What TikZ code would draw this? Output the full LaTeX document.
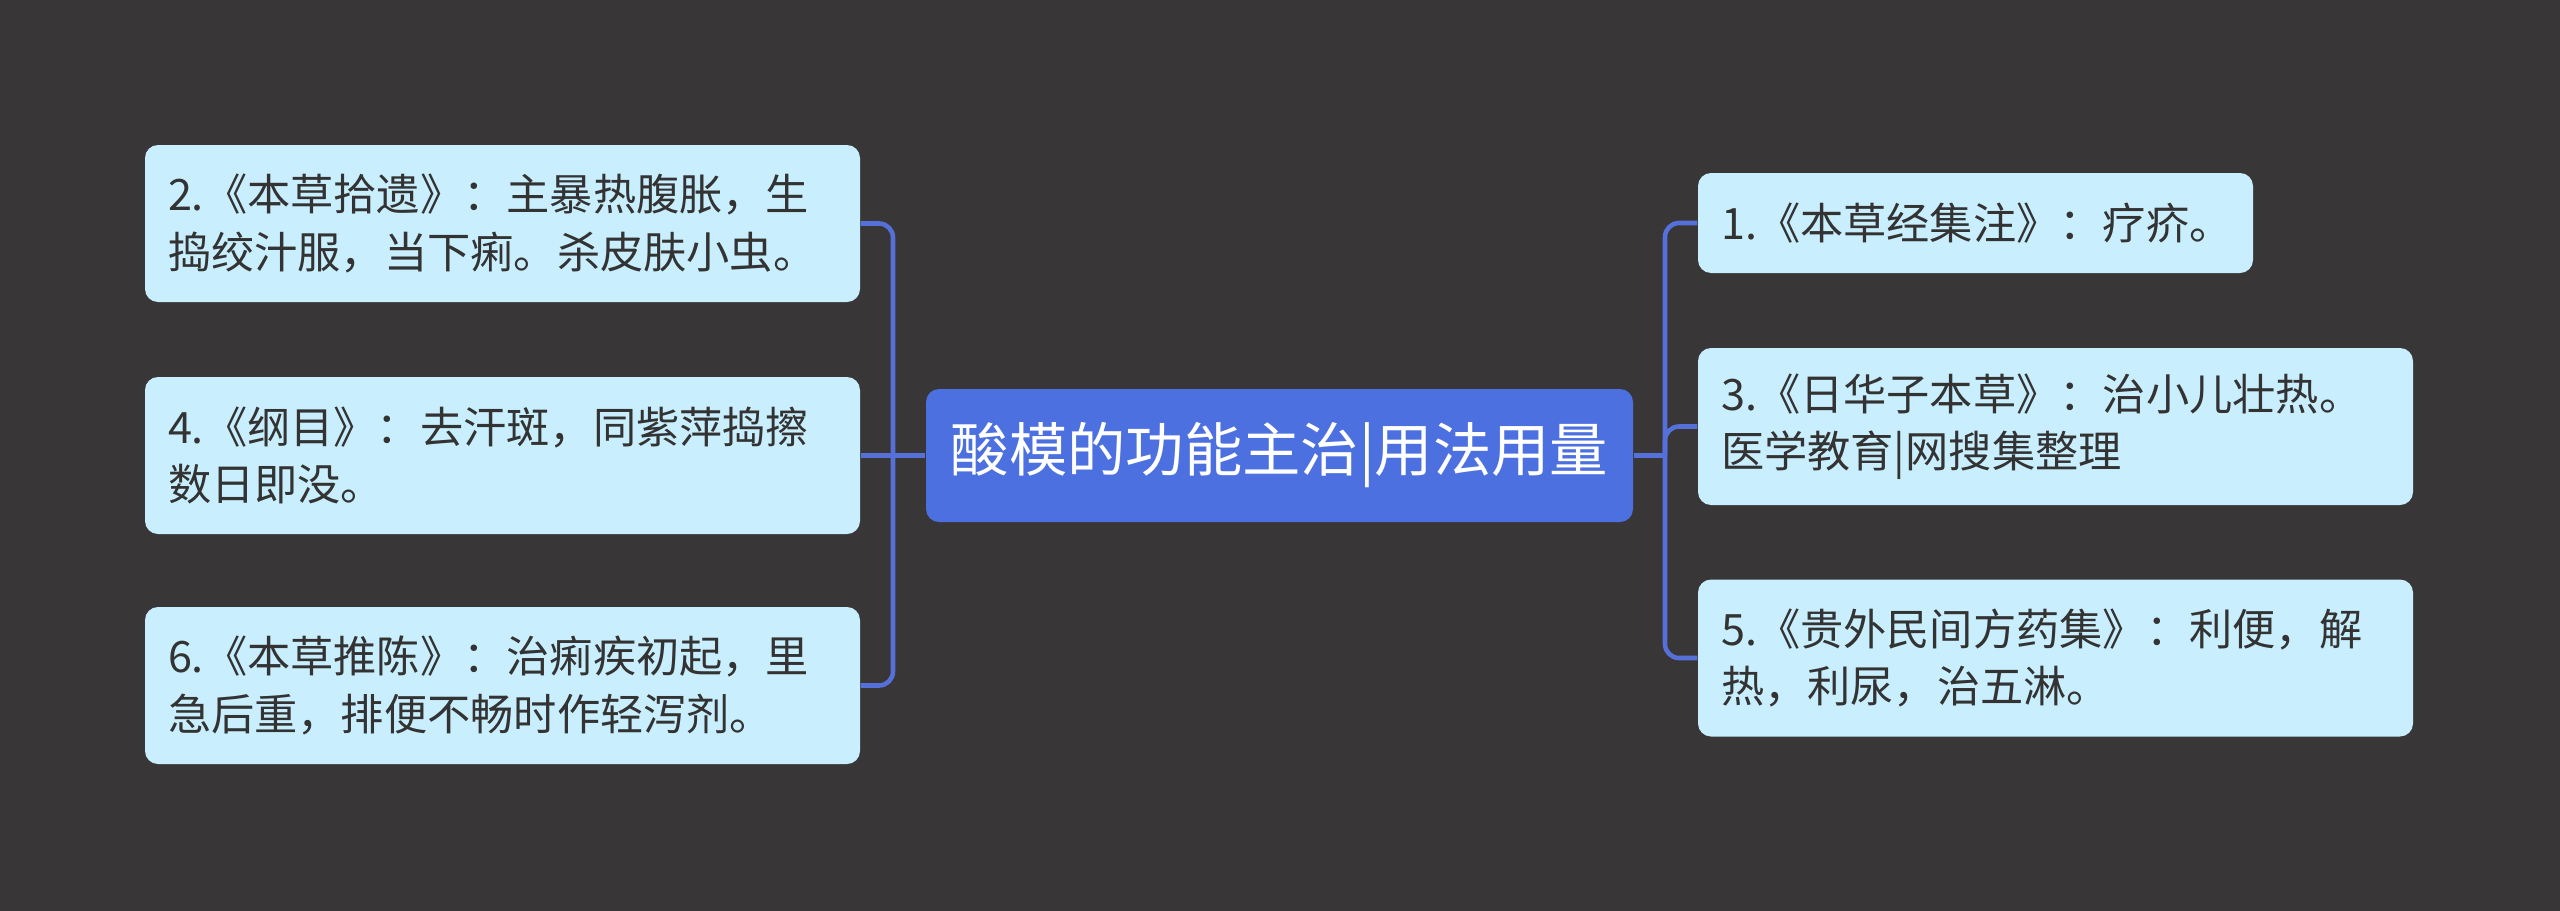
\documentclass[tikz,border=0pt]{standalone}
\usepackage{fontspec}
\newfontfamily\cjk{Noto Sans CJK SC}
\definecolor{bgcol}{HTML}{383637}
\definecolor{rootcol}{HTML}{4D70E0}
\definecolor{leafcol}{HTML}{C9EEFD}
\definecolor{linecol}{HTML}{5571D9}
\definecolor{txtcol}{HTML}{333333}
\begin{document}
\begin{tikzpicture}[x=0.1mm,y=-0.1mm,
  rootbox/.style={fill=rootcol,rounded corners=1.3mm,minimum width=70.7mm,minimum height=13.3mm,
    text=white,font=\cjk\fontsize{16.6}{20}\selectfont},
  leafbox/.style={fill=leafcol,rounded corners=1.3mm,inner xsep=2.3mm,align=left,
    text=txtcol,font=\cjk\fontsize{12.3}{16.3}\selectfont},
  wide/.style={text width=66.9mm,minimum height=15.7mm},
  link/.style={draw=linecol,line width=1.3pt,rounded corners=1.4mm}]
\fill[bgcol] (0,0) rectangle (2560,911);
\useasboundingbox (0,0) rectangle (2560,911);
%中心
\node[rootbox] (root) at (1279.5,455.5) {酸模的功能主治|用法用量};
%左側
\node[leafbox,wide] (l1) at (502.5,223.5) {2.《本草拾遗》：主暴热腹胀，生\\捣绞汁服，当下痢。杀皮肤小虫。};
\node[leafbox,wide] (l2) at (502.5,455.5) {4.《纲目》：去汗斑，同紫萍捣擦\\数日即没。};
\node[leafbox,wide] (l3) at (502.5,685.5) {6.《本草推陈》：治痢疾初起，里\\急后重，排便不畅时作轻泻剂。};
%右側
\node[leafbox,text width=50.9mm,minimum height=10mm] (r1) at (1975.5,223) {1.《本草经集注》：疗疥。};
\node[leafbox,wide] (r2) at (2055.5,426.5) {3.《日华子本草》：治小儿壮热。\\医学教育|网搜集整理};
\node[leafbox,wide] (r3) at (2055.5,658) {5.《贵外民间方药集》：利便，解\\热，利尿，治五淋。};
%接続線
\coordinate (jl) at (893,455.5);
\coordinate (jr) at (1665,455.5);
\draw[link] (root.west) -- (jl);
\draw[link] (jl) |- (l1.east);
\draw[link] (jl) -- (l2.east);
\draw[link] (jl) |- (l3.east);
\draw[link] (root.east) -- (jr);
\draw[link] (jr) |- (r1.west);
\draw[link] (jr) |- (r2.west);
\draw[link] (jr) |- (r3.west);
\end{tikzpicture}
\end{document}
